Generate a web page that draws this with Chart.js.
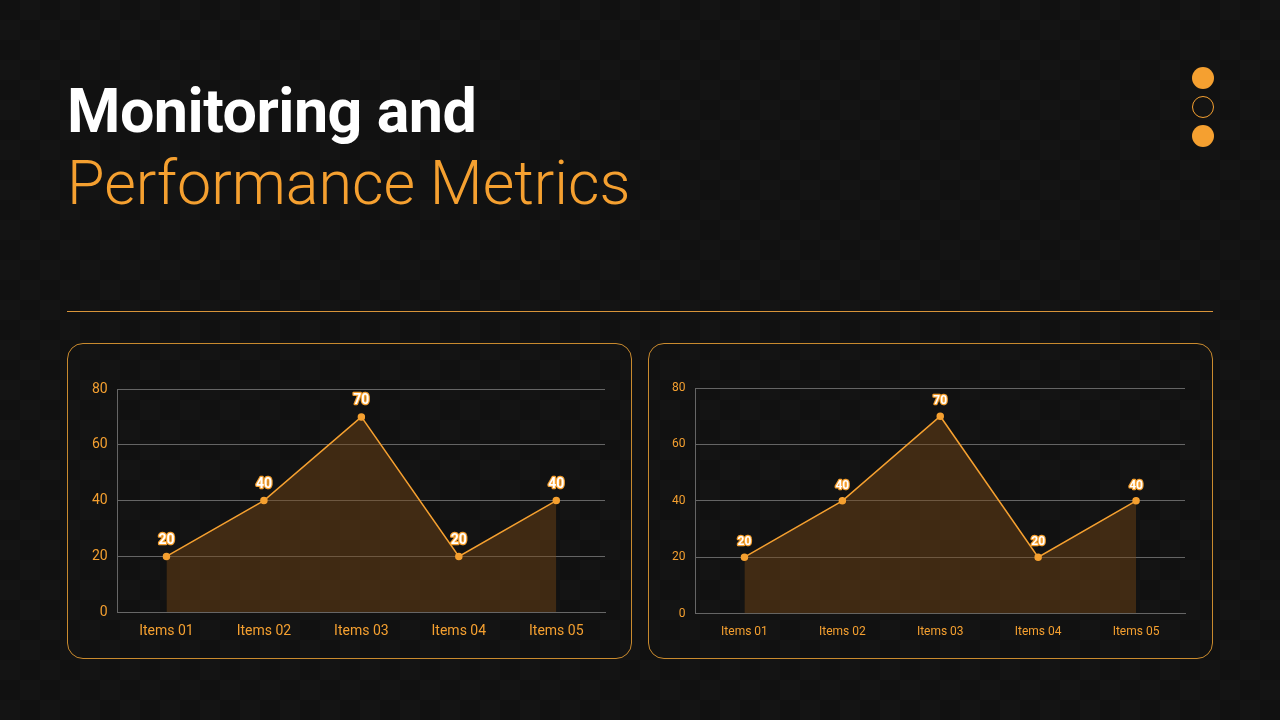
<!DOCTYPE html>
<html><head><meta charset="utf-8">
<script src="https://cdn.jsdelivr.net/npm/chart.js@4"></script>
<style>
body{margin:0;width:1280px;height:720px;background:#111;overflow:hidden;font-family:Roboto,sans-serif;position:relative;
background-image:linear-gradient(45deg,#141414 25%,transparent 25%,transparent 75%,#141414 75%),linear-gradient(45deg,#141414 25%,transparent 25%,transparent 75%,#141414 75%);background-size:40px 40px;background-position:0 0,20px 20px;}
h1{position:absolute;left:67px;top:76px;margin:0;font-size:61px;line-height:70px;font-weight:700;color:#fff;letter-spacing:-0.5px}
h2{position:absolute;left:67px;top:148px;margin:0;font-size:61px;line-height:70px;font-weight:300;color:#f5a030;}
.dot{position:absolute;left:1192px;width:22px;height:22px;border-radius:50%;box-sizing:border-box}
.rule{position:absolute;left:67px;top:311px;width:1146px;height:1px;background:#d9953a}
.panel{position:absolute;top:343px;width:565px;height:316px;border:1px solid #c98a2e;border-radius:16px;box-sizing:border-box}
.cw{position:absolute;top:343px;width:565px;height:316px}
</style></head><body>
<h1>Monitoring and</h1>
<h2>Performance Metrics</h2>
<div class="dot" style="top:67px;background:#f5a030"></div>
<div class="dot" style="top:96px;border:1.5px solid #f5a030"></div>
<div class="dot" style="top:125px;background:#f5a030"></div>
<div class="rule"></div>
<div class="panel" style="left:67px"></div>
<div class="panel" style="left:648px"></div>
<div class="cw" style="left:67px"><canvas id="c1"></canvas></div>
<div class="cw" style="left:648px"><canvas id="c2"></canvas></div>
<script>
const categories=["Items 01","Items 02","Items 03","Items 04","Items 05"];
const values=[20,40,70,20,40];
const yTicks=[0,20,40,60,80];
const orange='#f5a030';
const labelPlugin={id:'lbl',afterDatasetsDraw(ch,a,opts){
  const ctx=ch.ctx;const meta=ch.getDatasetMeta(0);
  ctx.save();ctx.font='bold '+opts.size+'px Roboto';ctx.textAlign='center';ctx.textBaseline='bottom';
  ctx.lineJoin='round';ctx.lineWidth=2.5;ctx.strokeStyle=orange;ctx.fillStyle='#fff';
  meta.data.forEach((p,i)=>{const t=String(values[i]);ctx.strokeText(t,p.x,p.y-9);ctx.fillText(t,p.x,p.y-9);});
  ctx.restore();}};
function make(id,fs,pad){
  new Chart(document.getElementById(id),{type:'line',
    data:{labels:categories,datasets:[{data:values,borderColor:orange,borderWidth:1.5,backgroundColor:'rgba(120,70,20,0.45)',fill:'origin',pointRadius:3,pointBackgroundColor:orange,pointBorderColor:orange,tension:0}]},
    options:{responsive:true,maintainAspectRatio:false,animation:false,
      layout:{padding:pad},
      plugins:{legend:{display:false},tooltip:{enabled:false},lbl:{size:fs}},
      scales:{x:{offset:true,grid:{display:false},border:{color:'#666'},ticks:{color:orange,font:{family:'Roboto',size:fs}}},
        y:{min:0,max:80,afterBuildTicks:ax=>{ax.ticks=yTicks.map(v=>({value:v}));},grid:{color:'rgba(255,255,255,0.35)',drawTicks:false},border:{color:'#666'},ticks:{color:orange,padding:10,font:{family:'Roboto',size:fs}}}}}
    ,plugins:[labelPlugin]});
}
make('c1',14,{left:15,right:27,top:46,bottom:16});
make('c2',12,{left:14,right:28,top:45,bottom:17});
</script></body></html>
